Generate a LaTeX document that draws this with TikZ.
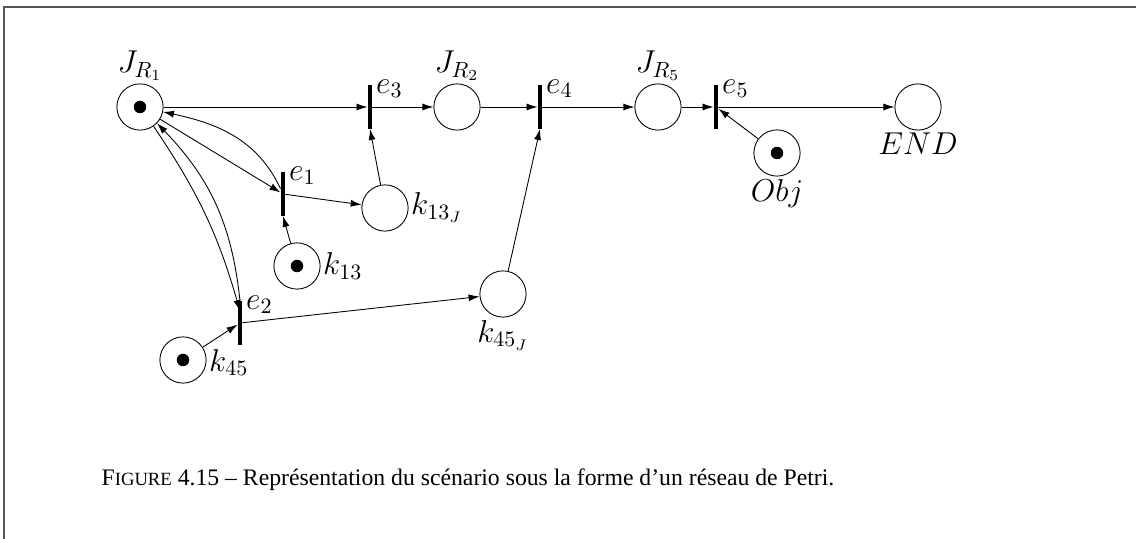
\documentclass[tikz,border=0pt]{standalone}
\usepackage{fontspec}
\newfontfamily\capfont{Liberation Serif}
\usetikzlibrary{arrows.meta}
\definecolor{FrameGray}{HTML}{555555}

\begin{document}
\begin{tikzpicture}[x=0.016cm, y=0.016cm, >={Latex[length=5pt,width=3.2pt]}, thin, font=\fontsize{14.4}{17}\selectfont]
\tikzset{place/.style={circle, draw, minimum size=0.74cm, inner sep=0pt}, marked/.style={place, path picture={\fill (path picture bounding box.center) circle (0.1cm);}}, trans/.style={fill=black, minimum width=0.065cm, minimum height=0.69cm, inner sep=0pt}, tlabel/.style={anchor=west, inner sep=1.5pt, yshift=-0.06cm}}
\useasboundingbox (0,0) rectangle (1136,539);
\draw[FrameGray, line width=0.7pt] (4,0) -- (4,532) -- (1136,532);
\node[marked, label={[inner sep=1pt]above:$J_{R_1}$}] (jr1) at (140,432) {};
\node[trans, label={[tlabel]north east:$e_3$}] (e3) at (370,432) {};
\node[place, label={[inner sep=1pt]above:$J_{R_2}$}] (jr2) at (457,432) {};
\node[trans, label={[tlabel]north east:$e_4$}] (e4) at (540,432) {};
\node[place, label={[inner sep=1pt]above:$J_{R_5}$}] (jr5) at (658,432) {};
\node[trans, label={[tlabel]north east:$e_5$}] (e5) at (716,432) {};
\node[place, label={[inner sep=1pt]below:$END$}] (end) at (918,432) {};
\node[marked, label={[inner sep=1pt]below:$Obj$}] (obj) at (777,386) {};
\node[trans, label={[tlabel]north east:$e_1$}] (e1) at (283,345) {};
\node[place, label={[inner sep=1pt]right:$k_{13_J}$}] (k13j) at (385,331) {};
\node[marked, label={[inner sep=1pt]right:$k_{13}$}] (k13) at (297,273) {};
\node[trans, label={[tlabel]north east:$e_2$}] (e2) at (240,216) {};
\node[marked, label={[inner sep=1pt, yshift=-0.04cm]right:$k_{45}$}] (k45) at (183,179) {};
\node[place, label={[inner sep=1pt]below:$k_{45_J}$}] (k45j) at (503,245) {};
\draw[->] (jr1)--(e3); \draw[->] (e3)--(jr2); \draw[->] (jr2)--(e4); \draw[->] (e4)--(jr5); \draw[->] (jr5)--(e5); \draw[->] (e5)--(end);
\draw[->] (k13j)--(e3.south); \draw[->] (k45j)--(e4.south); \draw[->] (obj)--(e5);
\draw[->] (jr1)--(e1); \draw[->] (e1) to[out=115,in=-12] (jr1); \draw[->] (e1)--(k13j); \draw[->] (k13)--(e1.south);
\draw[->] (jr1) to[bend left=9] ([yshift=-0.16cm]e2.north); \draw[->] (e2.north) to[bend right=19] (jr1); \draw[->] (k45)--(e2); \draw[->] (e2)--(k45j);
\node[font=\capfont\fontsize{10.8}{13}\selectfont] (cap) at (468,59) {F{\fontsize{8.5}{10}\selectfont IGURE} 4.15 – Représentation du scénario sous la forme d’un réseau de Petri.};
\end{tikzpicture}
\end{document}
